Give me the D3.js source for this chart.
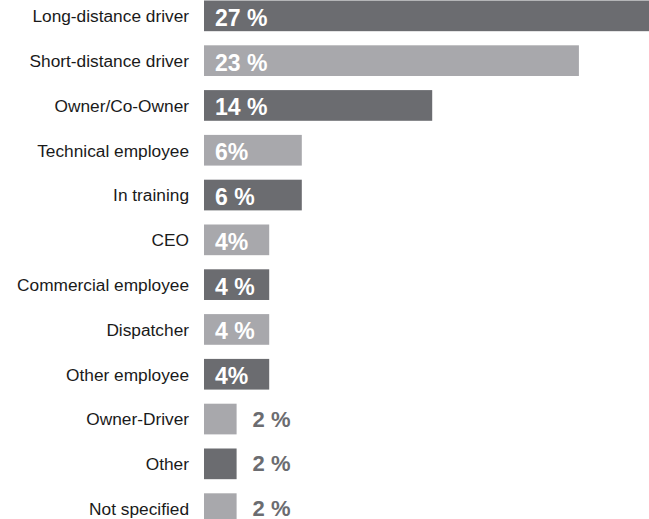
<!DOCTYPE html>
<html>
<head>
<meta charset="utf-8">
<script src="https://cdn.jsdelivr.net/npm/d3@7"></script>
<style>
  html, body { margin: 0; padding: 0; background: #fff; }
  svg { display: block; }
</style>
</head>
<body>
<div id="wrapper"></div>
<script>
// data
const categories = [
  "Long-distance driver", "Short-distance driver", "Owner/Co-Owner",
  "Technical employee", "In training", "CEO", "Commercial employee",
  "Dispatcher", "Other employee", "Owner-Driver", "Other", "Not specified"
]
const values = [27.3, 23, 14, 6, 6, 4, 4, 4, 4, 2, 2, 2]
const valueLabels = [
  "27 %", "23 %", "14 %", "6%", "6 %", "4%", "4 %", "4 %", "4%", "2 %", "2 %", "2 %"
]

function drawBars() {
  const data = categories.map((c, i) => ({
    category: c, value: values[i], label: valueLabels[i], index: i
  }))
  const yAccessor = d => d.category
  const xAccessor = d => d.value

  const dimensions = { width: 649, height: 519, barLeft: 204 }
  const colors = ["#6b6c70", "#a8a8ac"]

  const wrapper = d3.select("#wrapper")
    .append("svg")
    .attr("width", dimensions.width)
    .attr("height", dimensions.height)

  const xScale = d3.scaleLinear()
    .domain([0, 27.3])
    .range([dimensions.barLeft, dimensions.width])

  const yScale = d3.scaleBand()
    .domain(categories)
    .range([0.5, 0.5 + 44.8 * (categories.length - 0.315)])
    .paddingInner(0.315)
    .paddingOuter(0)

  const mid = d => yScale(yAccessor(d)) + yScale.bandwidth() / 2

  wrapper.append("g").selectAll("rect")
    .data(data)
    .join("rect")
      .attr("x", xScale(0))
      .attr("y", d => yScale(yAccessor(d)))
      .attr("width", d => xScale(xAccessor(d)) - xScale(0))
      .attr("height", yScale.bandwidth())
      .attr("fill", d => colors[d.index % 2])

  // category labels
  wrapper.append("g").selectAll("text")
    .data(data)
    .join("text")
      .attr("x", xScale(0) - 15)
      .attr("y", d => mid(d) + 6.3)
      .attr("text-anchor", "end")
      .style("font-family", "Arial, 'Liberation Sans', sans-serif")
      .style("font-size", "17.3px")
      .attr("fill", "#1a1a1a")
      .text(d => d.category)

  // value labels: inside the bar, or after it when the bar is short
  const inside = d => xAccessor(d) >= 3
  wrapper.append("g").selectAll("text")
    .data(data)
    .join("text")
      .attr("x", d => inside(d) ? xScale(0) + 11 : xScale(xAccessor(d)) + 16)
      .attr("y", d => inside(d) ? mid(d) + 10 : mid(d) + 7.5)
      .style("font-family", "Arial, 'Liberation Sans', sans-serif")
      .style("font-size", d => inside(d) ? "23px" : "22px")
      .style("font-weight", "bold")
      .attr("fill", d => inside(d) ? "#fff" : "#6b6c70")
      .text(d => d.label)
}

drawBars()
</script>
</body>
</html>
